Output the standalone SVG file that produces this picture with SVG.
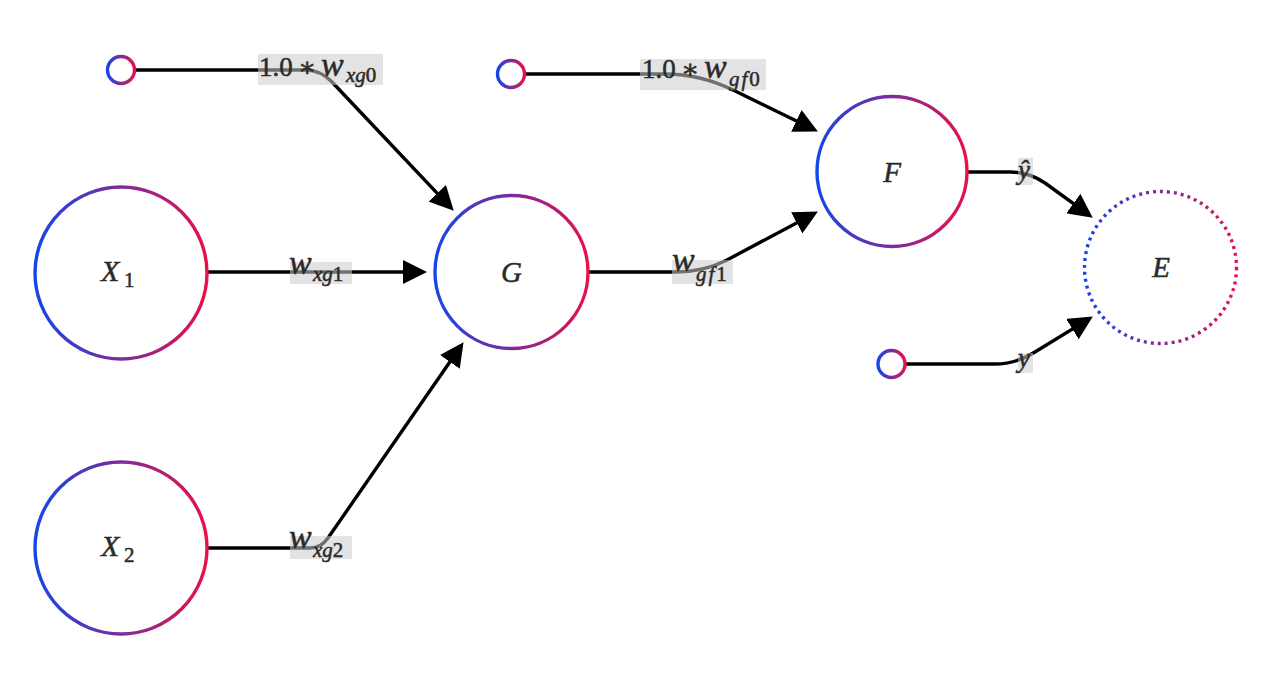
<svg xmlns="http://www.w3.org/2000/svg" width="1264" height="674" viewBox="0 0 1264 674">
<defs>
<linearGradient id="grad" x1="0" y1="0" x2="1" y2="0">
<stop offset="0" stop-color="#1446ea"/>
<stop offset="1" stop-color="#e8104a"/>
</linearGradient>
<marker id="arr" markerWidth="24" markerHeight="24" refX="19" refY="12" orient="auto" markerUnits="userSpaceOnUse">
<path d="M0,0 L24,12 L0,24 z" fill="#000"/>
</marker>
</defs>
<style>
.node{fill:#fff;stroke:url(#grad);stroke-width:3.4}
.dot{fill:#fff;stroke:url(#grad);stroke-width:3.4;stroke-dasharray:3 4}
.edge{fill:none;stroke:#000;stroke-width:3.4;marker-end:url(#arr)}
.lbg{fill:#cccccc;fill-opacity:0.55}
.t{font-family:"Liberation Serif","DejaVu Serif",serif;fill:#2a2a2a;stroke:#2a2a2a;stroke-width:0.5}
.i{font-style:italic}
.nl{font-size:29px;text-anchor:middle;font-style:italic}
</style>
<rect width="1264" height="674" fill="#fff"/>
<g id="connectors">
<path class="edge" d="M134,70 L305,70 Q321,70 332,82 L450.3,207.1"/>
<path class="edge" d="M207,272 L422,272"/>
<path class="edge" d="M207,548 L310,548 Q321,548 328,538 L460.7,346.3"/>
<path class="edge" d="M525,74 L665,74 Q700,74 733,90 L813.4,129.2"/>
<path class="edge" d="M588,272 L675,272 Q704,272 727,260 L813.5,213.9"/>
<path class="edge" d="M967,172 L1010,172 Q1029,172 1045,183 L1088.7,214.7"/>
<path class="edge" d="M905,364 L995,364 Q1016,364 1035,352 L1088.6,319.1"/>
</g>
<g id="edge-labels">
<g id="lbl-xg0">
<rect class="lbg" x="258" y="54" width="125" height="31"/>
<text class="t" y="76"><tspan x="259" font-size="27">1.0</tspan><tspan x="298" font-size="27">∗</tspan><tspan x="321" font-size="34" class="i">w</tspan><tspan x="346" y="82" font-size="21" class="i">xg</tspan><tspan font-size="21">0</tspan></text>
</g>
<g id="lbl-xg1">
<rect class="lbg" x="290" y="262" width="62" height="22"/>
<text class="t" y="274"><tspan x="289" font-size="34" class="i">w</tspan><tspan x="313" y="281" font-size="21" class="i">xg</tspan><tspan font-size="21">1</tspan></text>
</g>
<g id="lbl-xg2">
<rect class="lbg" x="290" y="536" width="62" height="23"/>
<text class="t" y="548"><tspan x="289" font-size="34" class="i">w</tspan><tspan x="313" y="557" font-size="21" class="i">xg</tspan><tspan font-size="21">2</tspan></text>
</g>
<g id="lbl-gf0">
<rect class="lbg" x="640" y="59" width="126" height="31"/>
<text class="t" y="78"><tspan x="642" font-size="27">1.0</tspan><tspan x="681" font-size="27">∗</tspan><tspan x="704" font-size="34" class="i">w</tspan><tspan x="729" y="86" font-size="21" class="i" letter-spacing="2">gf</tspan><tspan font-size="21">0</tspan></text>
</g>
<g id="lbl-gf1">
<rect class="lbg" x="672" y="260" width="61" height="24"/>
<text class="t" y="271"><tspan x="672" font-size="34" class="i">w</tspan><tspan x="696" y="281" font-size="21" class="i" letter-spacing="2">gf</tspan><tspan font-size="21">1</tspan></text>
</g>
<g id="lbl-yhat">
<rect class="lbg" x="1018" y="158" width="15" height="27"/>
<text class="t i" x="1018" y="179" font-size="27">ŷ</text>
</g>
<g id="lbl-y">
<rect class="lbg" x="1018" y="353" width="15" height="20"/>
<text class="t i" x="1018" y="367" font-size="27">y</text>
</g>
</g>
<g id="node-b1"><circle class="node" cx="121" cy="70" r="13.5"/></g>
<g id="node-b2"><circle class="node" cx="511" cy="74" r="13.5"/></g>
<g id="node-y"><circle class="node" cx="891.5" cy="364" r="13.5"/></g>
<g id="node-X1"><circle class="node" cx="121" cy="273" r="86"/><text class="t" y="281"><tspan x="101" font-size="30" class="i">X</tspan><tspan x="124" y="287" font-size="21">1</tspan></text></g>
<g id="node-X2"><circle class="node" cx="121" cy="548" r="86"/><text class="t" y="556"><tspan x="101" font-size="30" class="i">X</tspan><tspan x="124" y="562" font-size="21">2</tspan></text></g>
<g id="node-G"><circle class="node" cx="511.5" cy="272" r="76.5"/><text class="t nl" x="511.5" y="282">G</text></g>
<g id="node-F"><circle class="node" cx="892" cy="171.5" r="75"/><text class="t nl" x="892" y="182">F</text></g>
<g id="node-E"><circle class="dot" cx="1160.5" cy="267.5" r="76"/><text class="t nl" x="1161" y="277">E</text></g>
</svg>
